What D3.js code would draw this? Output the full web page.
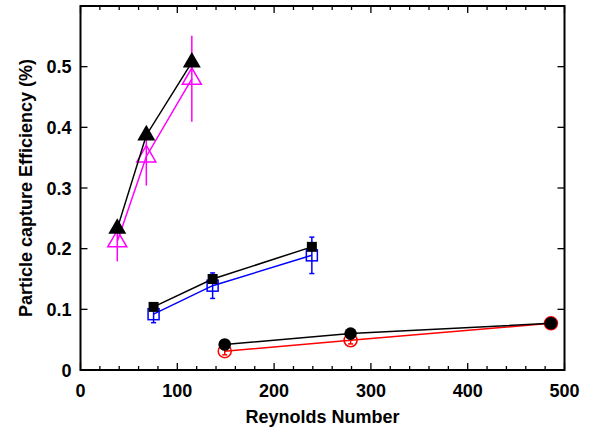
<!DOCTYPE html>
<html>
<head>
<meta charset="utf-8">
<script src="https://cdn.jsdelivr.net/npm/d3@7"></script>
<style>
  body { margin: 0; background: #fff; }
  text { font-family: "Liberation Sans", Arial, sans-serif; font-weight: bold; }
</style>
</head>
<body>
<svg id="chart" width="589" height="429"></svg>
<script>
// triangles (black filled, magenta open with error bars)
const triX = [38, 68, 115];
const triBlack = [0.233, 0.387, 0.507];
const triMagenta = [0.212, 0.352, 0.480];
const triMagentaErr = [0.033, 0.048, 0.071];

// squares (black filled, blue open with error bars)
const sqX = [75.5, 136.5, 239];
const sqBlack = [0.104, 0.150, 0.203];
const sqBlue = [0.092, 0.139, 0.189];
const sqBlueErr = [0.014, 0.021, 0.030];

// circles (black filled, red open with error bars)
const circX = [149, 279, 486];
const circBlack = [0.042, 0.060, 0.077];
const circRed = [0.031, 0.049, 0.077];
const circRedErr = [0.006, 0.006, 0.004];

const xTicks = [0, 100, 200, 300, 400, 500];
const yTicks = [0, 0.1, 0.2, 0.3, 0.4, 0.5];

const margin = { left: 80.5, right: 24.5, top: 6, bottom: 59 };
const W = 589, H = 429;

const svg = d3.select('#chart');
const x = d3.scaleLinear().domain([0, 500]).range([margin.left, W - margin.right]);
const y = d3.scaleLinear().domain([0, 0.6]).range([H - margin.bottom, margin.top]);

const g = svg.append('g');

// ticks, all pointing inward
const minorX = d3.range(0, 501, 20);
const tickG = g.append('g').attr('stroke', '#000').attr('stroke-width', 1.3);
minorX.forEach(v => {
    const len = v % 100 === 0 ? 7 : 4;
    tickG.append('line').attr('x1', x(v)).attr('x2', x(v))
        .attr('y1', y(0)).attr('y2', y(0) - len);
    tickG.append('line').attr('x1', x(v)).attr('x2', x(v))
        .attr('y1', y(0.6)).attr('y2', y(0.6) + len);
});
yTicks.forEach(v => {
    tickG.append('line').attr('x1', x(0)).attr('x2', x(0) + 7)
        .attr('y1', y(v)).attr('y2', y(v));
    tickG.append('line').attr('x1', x(500)).attr('x2', x(500) - 7)
        .attr('y1', y(v)).attr('y2', y(v));
});

// frame
g.append('rect')
    .attr('x', x(0)).attr('y', y(0.6))
    .attr('width', x(500) - x(0)).attr('height', y(0) - y(0.6))
    .attr('fill', 'none').attr('stroke', '#000').attr('stroke-width', 2);

// tick labels
g.append('g').selectAll('text').data(xTicks).join('text')
    .attr('x', d => x(d)).attr('y', y(0) + 27)
    .attr('text-anchor', 'middle').attr('font-size', 18)
    .text(d => d);
g.append('g').selectAll('text').data(yTicks).join('text')
    .attr('x', x(0) - 9).attr('y', d => y(d) + 6.5)
    .attr('text-anchor', 'end').attr('font-size', 18)
    .text(d => d === 0 ? '0' : d.toFixed(1));

// axis titles
g.append('text')
    .attr('x', (x(0) + x(500)) / 2).attr('y', 423)
    .attr('text-anchor', 'middle').attr('font-size', 18)
    .text('Reynolds Number');
g.append('text')
    .attr('transform', `translate(32,${(y(0) + y(0.6)) / 2}) rotate(-90)`)
    .attr('text-anchor', 'middle').attr('font-size', 18)
    .text('Particle capture Efficiency (%)');

const line = d3.line().x(d => x(d[0])).y(d => y(d[1]));
const zip = (xs, ys) => xs.map((v, i) => [v, ys[i]]);

function drawLine(xs, ys, color) {
    g.append('path').datum(zip(xs, ys))
        .attr('d', line).attr('fill', 'none')
        .attr('stroke', color).attr('stroke-width', 1.5);
}

function drawErr(xs, ys, errs, color, cap) {
    xs.forEach((v, i) => {
        const cx = x(v), y1 = y(ys[i] - errs[i]), y2 = y(ys[i] + errs[i]);
        g.append('line').attr('x1', cx).attr('x2', cx).attr('y1', y1).attr('y2', y2)
            .attr('stroke', color).attr('stroke-width', 1.5);
        if (cap) {
            [y1, y2].forEach(yy => g.append('line')
                .attr('x1', cx - cap).attr('x2', cx + cap).attr('y1', yy).attr('y2', yy)
                .attr('stroke', color).attr('stroke-width', 1.5));
        }
    });
}

function triPath(cx, cy, s) {
    const h = s * Math.sqrt(3) / 2;
    return `M${cx},${cy - h * 2 / 3}L${cx + s / 2},${cy + h / 3}L${cx - s / 2},${cy + h / 3}Z`;
}

// magenta triangles (drawn below the black)
drawLine(triX, triMagenta, '#ff00ff');
drawErr(triX, triMagenta, triMagentaErr, '#ff00ff', 0);
triX.forEach((v, i) => g.append('path')
    .attr('d', triPath(x(v), y(triMagenta[i]), 19))
    .attr('fill', 'none').attr('stroke', '#ff00ff').attr('stroke-width', 1.5));
drawLine(triX, triBlack, '#000');
triX.forEach((v, i) => g.append('path')
    .attr('d', triPath(x(v), y(triBlack[i]), 18))
    .attr('fill', '#000'));

// blue squares
drawLine(sqX, sqBlue, '#0000ff');
drawErr(sqX, sqBlue, sqBlueErr, '#0000ff', 2.5);
sqX.forEach((v, i) => g.append('rect')
    .attr('x', x(v) - 5.5).attr('y', y(sqBlue[i]) - 5.5)
    .attr('width', 11).attr('height', 11)
    .attr('fill', 'none').attr('stroke', '#0000ff').attr('stroke-width', 1.5));
drawLine(sqX, sqBlack, '#000');
sqX.forEach((v, i) => g.append('rect')
    .attr('x', x(v) - 5).attr('y', y(sqBlack[i]) - 5)
    .attr('width', 10).attr('height', 10).attr('fill', '#000'));

// red circles
drawLine(circX, circRed, '#ff0000');
drawErr(circX, circRed, circRedErr, '#ff0000', 2.5);
circX.forEach((v, i) => g.append('circle')
    .attr('cx', x(v)).attr('cy', y(circRed[i])).attr('r', 6.5)
    .attr('fill', 'none').attr('stroke', '#ff0000').attr('stroke-width', 1.5));
drawLine(circX, circBlack, '#000');
circX.forEach((v, i) => g.append('circle')
    .attr('cx', x(v)).attr('cy', y(circBlack[i])).attr('r', 6.3)
    .attr('fill', '#000'));
</script>
</body>
</html>
